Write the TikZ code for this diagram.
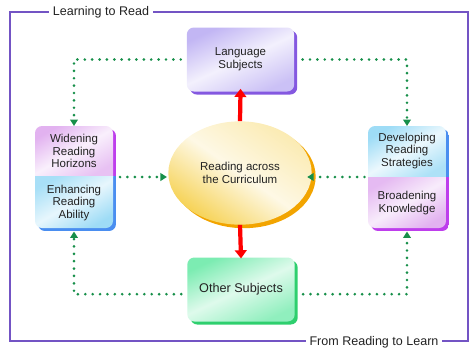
\documentclass[tikz,border=0pt]{standalone}
\usepackage{fontspec}
\setmainfont{Liberation Sans}
\usetikzlibrary{arrows.meta,shapes.geometric,shadows}

\definecolor{framec}{HTML}{7354C4}
\definecolor{dotgreen}{HTML}{178F4A}
\definecolor{langA}{HTML}{C2B6F4}
\definecolor{langS}{HTML}{8458E0}
\definecolor{otherA}{HTML}{7CECB2}
\definecolor{otherS}{HTML}{2ECF6E}
\definecolor{ellA}{HTML}{F6D254}
\definecolor{ellS}{HTML}{F2A400}
\definecolor{pinkA}{HTML}{E2B2F0}
\definecolor{pinkS}{HTML}{BE3EEC}
\definecolor{cyanA}{HTML}{9EDCF6}
\definecolor{cyanS}{HTML}{4A8EF0}
\definecolor{txtc}{HTML}{222222}

\begin{document}
\begin{tikzpicture}[x=0.03cm,y=-0.03cm,
  txtnode/.style={font=\fontsize{9.8}{10.8}\selectfont, text=txtc, align=center, inner sep=0pt},
  framelabel/.style={font=\fontsize{10.7}{12}\selectfont, text=txtc, fill=white, inner xsep=3pt, inner ysep=1pt},
  subject/.style={txtnode, rounded corners=6pt, minimum width=3.22cm, minimum height=1.92cm},
  slot/.style={inner sep=0pt, outer sep=0pt, minimum width=2.34cm, minimum height=3.06cm},
  dotlink/.style={dotgreen, line width=2.5pt, line cap=round, dash pattern=on 0pt off 6.3pt,
    -{Triangle[length=5.5pt,width=6.5pt]}},
  redlink/.style={red, line width=3.6pt, -{Triangle[length=7pt,width=10pt]}}]

\useasboundingbox (0,0) rectangle (475,351);

% outer frame with its two labels
\draw[framec, line width=1.2pt] (10,12) rectangle (468,341);
\node[framelabel] (ltr) at (101,12) {Learning to Read};
\node[framelabel] (frl) at (374,342) {From Reading to Learn};

% subject boxes
\node[subject, top color=langA, bottom color=langA!85, middle color=langA!20, shading angle=25,
  general shadow={fill=langS, shadow xshift=2.6pt, shadow yshift=-2.6pt}]
  (lang) at (240.5,59.5) {Language\\Subjects};
\node[subject, font=\fontsize{10.8}{12}\selectfont, top color=otherA, bottom color=otherA!85, middle color=otherA!25, shading angle=25,
  general shadow={fill=otherS, shadow xshift=2.6pt, shadow yshift=-2.6pt}]
  (other) at (241,289.5) {Other Subjects};

% central ellipse
\node[ellipse, txtnode, minimum width=4.3cm, minimum height=3.1cm,
  top color=ellA!45, bottom color=ellA, middle color=ellA!15, shading angle=-35,
  general shadow={fill=ellS, shadow xshift=3.4pt, shadow yshift=-3pt}]
  (curr) at (240,173) {Reading across\\the Curriculum};

% left split box: shadow, faces, then the anchor node and texts
\begin{scope}
  \clip[rounded corners=6pt] (38,129) rectangle (116,231);
  \fill[pinkS] (38,129) rectangle (116,176);
  \fill[cyanS] (38,176) rectangle (116,231);
\end{scope}
\begin{scope}
  \clip[rounded corners=6pt] (35,126) rectangle (113,228);
  \shade[top color=pinkA, bottom color=pinkA!80, middle color=pinkA!20, shading angle=30] (35,126) rectangle (113,176);
  \shade[top color=cyanA!90, bottom color=cyanA, middle color=cyanA!25, shading angle=30] (35,176) rectangle (113,228);
\end{scope}
\node[slot] (lbox) at (74,177) {};
\node[txtnode] (lwide) at (74,151) {Widening\\Reading\\Horizons};
\node[txtnode] (lenh) at (74,203) {Enhancing\\Reading\\Ability};

% right split box
\begin{scope}
  \clip[rounded corners=6pt] (371,129) rectangle (449,231);
  \fill[cyanS] (371,129) rectangle (449,177);
  \fill[pinkS] (371,177) rectangle (449,231);
\end{scope}
\begin{scope}
  \clip[rounded corners=6pt] (368,126) rectangle (446,228);
  \shade[top color=cyanA, bottom color=cyanA!85, middle color=cyanA!20, shading angle=30] (368,126) rectangle (446,177);
  \shade[top color=pinkA!90, bottom color=pinkA, middle color=pinkA!25, shading angle=30] (368,177) rectangle (446,228);
\end{scope}
\node[slot] (rbox) at (407,177) {};
\node[txtnode] (rdev) at (407,151) {Developing\\Reading\\Strategies};
\node[txtnode] (rbro) at (407,203) {Broadening\\Knowledge};

% red links from the centre
\draw[redlink, shorten >=-2.5pt] (curr.north) -- (lang.south);
\draw[redlink, shorten >=-1pt] (curr.south) -- (other.north);

% green dotted links
\draw[dotlink, shorten <=5pt] (lang.west) -| (lbox.north);
\draw[dotlink, shorten <=7pt] (lang.east) -| (rbox.north);
\draw[dotlink, shorten <=5pt, shorten >=3pt] ([yshift=-4pt]other.west) -| (lbox.south);
\draw[dotlink, shorten <=7pt, shorten >=3pt] ([yshift=-4pt]other.east) -| (rbox.south);
\draw[dotlink, shorten <=6pt, shorten >=1pt] (lbox.east) -- (lbox.east -| curr.west);
\draw[dotlink, shorten <=3pt, shorten >=-4pt] (rbox.west) -- (rbox.west -| curr.east);
\end{tikzpicture}
\end{document}
